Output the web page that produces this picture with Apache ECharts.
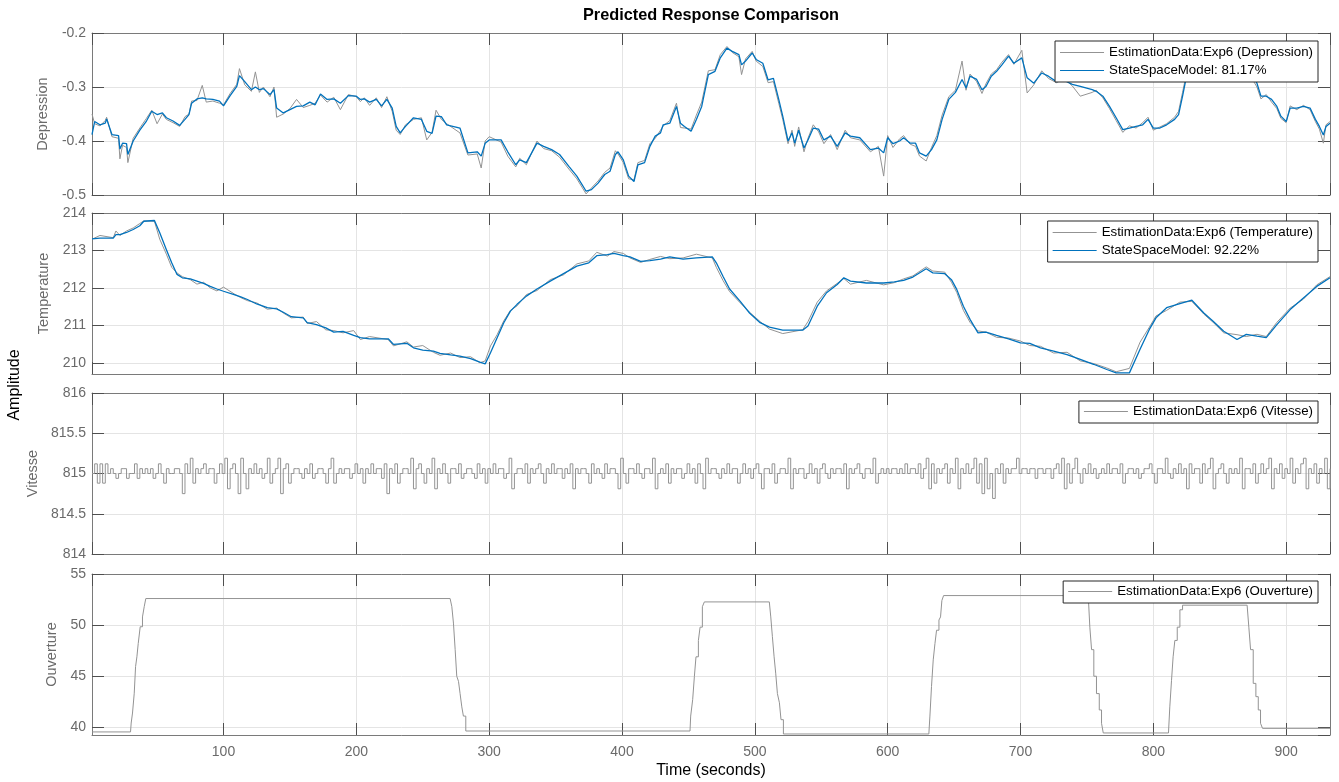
<!DOCTYPE html>
<html>
<head>
<meta charset="utf-8">
<script src="https://cdn.jsdelivr.net/npm/echarts@6/dist/echarts.min.js"></script>
<style>
  html, body { margin: 0; padding: 0; background: #ffffff; }
  #chart { width: 1339px; height: 782px; }
</style>
</head>
<body>
<div id="chart"></div>
<script>
// ---- Depression (output 1): measured vs one-step predicted ----
const depTime = [1,3,7,11,12,16,21,22,24,27,28,32,37,42,46,50,54,57,62,67,71,74,76,80,84,87,92,97,100,105,110,112,116,121,124,127,130,135,138,140,145,150,155,160,165,169,173,178,183,188,194,200,203,206,210,215,219,223,227,230,233,237,243,249,253,257,260,264,268,278,284,291,294,297,300,309,314,320,323,328,336,341,347,353,360,366,373,377,382,387,391,395,397,401,405,409,412,417,421,425,429,431,436,441,444,447,452,456,460,465,470,474,479,483,488,490,493,498,501,506,510,514,518,521,525,528,530,533,537,540,544,548,552,557,562,568,572,579,587,593,597,600,604,609,612,617,621,624,629,633,637,641,646,651,656,659,662,667,671,674,678,682,686,691,695,701,705,710,716,721,727,733,739,745,754,757,762,767,772,777,782,787,792,796,800,805,810,816,819,822,825,830,836,842,848,854,860,866,872,878,881,885,889,893,896,900,903,908,913,918,922,925,928,930,933];
const depModel = [-0.388,-0.364,-0.370,-0.367,-0.359,-0.388,-0.390,-0.415,-0.404,-0.405,-0.425,-0.400,-0.380,-0.363,-0.345,-0.351,-0.348,-0.357,-0.363,-0.371,-0.360,-0.351,-0.330,-0.322,-0.320,-0.322,-0.323,-0.326,-0.335,-0.316,-0.299,-0.279,-0.290,-0.305,-0.300,-0.305,-0.303,-0.314,-0.305,-0.339,-0.348,-0.342,-0.336,-0.335,-0.328,-0.333,-0.313,-0.323,-0.322,-0.330,-0.316,-0.317,-0.323,-0.322,-0.328,-0.323,-0.335,-0.323,-0.339,-0.373,-0.385,-0.373,-0.357,-0.360,-0.382,-0.386,-0.354,-0.355,-0.370,-0.376,-0.422,-0.420,-0.428,-0.404,-0.398,-0.398,-0.420,-0.444,-0.435,-0.440,-0.404,-0.410,-0.416,-0.425,-0.447,-0.465,-0.493,-0.490,-0.478,-0.462,-0.456,-0.425,-0.420,-0.435,-0.465,-0.475,-0.444,-0.440,-0.410,-0.391,-0.385,-0.370,-0.367,-0.336,-0.367,-0.373,-0.382,-0.360,-0.336,-0.277,-0.271,-0.246,-0.228,-0.234,-0.240,-0.259,-0.252,-0.237,-0.249,-0.256,-0.287,-0.284,-0.323,-0.354,-0.400,-0.385,-0.404,-0.380,-0.413,-0.398,-0.376,-0.378,-0.398,-0.391,-0.410,-0.385,-0.391,-0.394,-0.416,-0.413,-0.422,-0.394,-0.405,-0.400,-0.394,-0.404,-0.404,-0.422,-0.428,-0.416,-0.398,-0.360,-0.323,-0.310,-0.286,-0.302,-0.280,-0.286,-0.305,-0.299,-0.280,-0.271,-0.259,-0.243,-0.256,-0.246,-0.283,-0.293,-0.274,-0.280,-0.290,-0.288,-0.295,-0.299,-0.305,-0.308,-0.317,-0.336,-0.357,-0.379,-0.376,-0.373,-0.370,-0.360,-0.376,-0.376,-0.370,-0.360,-0.351,-0.317,-0.280,-0.262,-0.250,-0.245,-0.240,-0.245,-0.250,-0.258,-0.270,-0.293,-0.317,-0.317,-0.323,-0.336,-0.354,-0.364,-0.339,-0.339,-0.336,-0.339,-0.360,-0.373,-0.389,-0.373,-0.367];
const depMeasured = [-0.350,-0.368,-0.372,-0.362,-0.356,-0.392,-0.395,-0.433,-0.408,-0.412,-0.440,-0.395,-0.376,-0.358,-0.343,-0.368,-0.350,-0.360,-0.366,-0.373,-0.355,-0.350,-0.326,-0.325,-0.297,-0.328,-0.326,-0.330,-0.333,-0.312,-0.295,-0.266,-0.296,-0.308,-0.272,-0.310,-0.300,-0.318,-0.300,-0.356,-0.350,-0.340,-0.323,-0.338,-0.334,-0.330,-0.315,-0.328,-0.319,-0.342,-0.314,-0.318,-0.327,-0.320,-0.334,-0.320,-0.338,-0.318,-0.345,-0.380,-0.388,-0.370,-0.360,-0.357,-0.398,-0.384,-0.343,-0.360,-0.368,-0.385,-0.426,-0.424,-0.450,-0.400,-0.392,-0.402,-0.428,-0.448,-0.432,-0.444,-0.400,-0.414,-0.418,-0.430,-0.452,-0.470,-0.498,-0.487,-0.474,-0.458,-0.450,-0.418,-0.424,-0.440,-0.470,-0.472,-0.440,-0.436,-0.405,-0.395,-0.380,-0.372,-0.362,-0.330,-0.375,-0.376,-0.378,-0.352,-0.328,-0.270,-0.268,-0.240,-0.225,-0.236,-0.244,-0.277,-0.248,-0.234,-0.252,-0.262,-0.292,-0.290,-0.330,-0.360,-0.405,-0.380,-0.410,-0.374,-0.420,-0.395,-0.370,-0.383,-0.405,-0.388,-0.416,-0.380,-0.394,-0.398,-0.420,-0.410,-0.465,-0.390,-0.412,-0.396,-0.390,-0.406,-0.410,-0.428,-0.437,-0.412,-0.390,-0.352,-0.318,-0.306,-0.252,-0.306,-0.276,-0.290,-0.312,-0.294,-0.276,-0.268,-0.254,-0.240,-0.258,-0.232,-0.311,-0.296,-0.270,-0.284,-0.292,-0.285,-0.298,-0.317,-0.310,-0.306,-0.320,-0.340,-0.362,-0.384,-0.372,-0.376,-0.366,-0.356,-0.380,-0.374,-0.368,-0.356,-0.345,-0.310,-0.274,-0.258,-0.246,-0.242,-0.238,-0.248,-0.254,-0.262,-0.275,-0.300,-0.322,-0.314,-0.328,-0.340,-0.358,-0.366,-0.335,-0.342,-0.334,-0.342,-0.364,-0.378,-0.404,-0.370,-0.364];

// ---- Temperature (output 2) ----
const tempTime = [1,7,17,19,22,27,32,37,40,48,52,57,61,65,69,75,80,85,90,95,100,108,113,118,125,133,140,145,151,160,163,170,177,183,190,198,203,210,224,228,238,243,250,258,263,271,278,286,293,297,301,306,311,316,321,328,336,346,356,366,375,381,389,394,401,406,414,421,429,436,446,456,468,471,476,481,489,496,504,511,521,536,540,547,554,562,567,572,584,597,605,612,619,629,634,643,648,652,657,662,668,674,682,691,700,707,715,725,735,745,755,765,772,782,790,797,802,810,820,829,838,845,853,863,870,878,885,893,903,913,923,933];
const tempModel = [213.31,213.33,213.33,213.42,213.42,213.48,213.56,213.66,213.78,213.80,213.47,213.02,212.67,212.36,212.27,212.24,212.18,212.12,212.04,211.97,211.91,211.82,211.76,211.69,211.57,211.47,211.44,211.35,211.23,211.20,211.07,211.02,210.93,210.82,210.84,210.73,210.67,210.64,210.64,210.49,210.52,210.40,210.34,210.31,210.25,210.21,210.18,210.11,210.02,209.97,210.27,210.67,211.07,211.38,211.56,211.78,211.97,212.18,212.38,212.58,212.67,212.86,212.89,212.92,212.86,212.83,212.71,212.73,212.77,212.83,212.77,212.80,212.83,212.67,212.31,211.97,211.64,211.33,211.07,210.95,210.87,210.87,210.98,211.51,211.87,212.09,212.27,212.18,212.13,212.13,212.16,212.20,212.29,212.51,212.40,212.38,212.22,211.96,211.51,211.16,210.80,210.82,210.73,210.64,210.53,210.52,210.40,210.31,210.22,210.09,209.96,209.82,209.73,209.73,210.36,210.89,211.20,211.47,211.58,211.67,211.33,211.11,210.84,210.62,210.76,210.71,210.67,211.02,211.42,211.73,212.04,212.27];
const tempMeasured = [213.30,213.40,213.34,213.52,213.40,213.52,213.60,213.72,213.79,213.78,213.30,212.90,212.55,212.40,212.30,212.22,212.10,212.15,212.00,211.92,212.02,211.84,211.74,211.66,211.60,211.43,211.46,211.33,211.20,211.22,211.05,211.10,210.88,210.86,210.80,210.86,210.62,210.70,210.62,210.45,210.56,210.42,210.46,210.28,210.20,210.26,210.14,210.16,210.00,210.05,210.45,210.75,211.12,211.40,211.52,211.82,211.93,212.22,212.35,212.64,212.72,212.95,212.85,212.97,212.92,212.80,212.68,212.76,212.84,212.78,212.80,212.90,212.80,212.55,212.20,211.90,211.60,211.35,211.10,210.90,210.78,210.88,211.10,211.62,211.92,212.12,212.25,212.10,212.20,212.08,212.14,212.24,212.32,212.56,212.45,212.42,212.15,211.88,211.40,211.08,210.85,210.82,210.68,210.66,210.58,210.46,210.44,210.26,210.28,210.05,209.98,209.86,209.76,209.85,210.55,210.95,211.25,211.40,211.62,211.64,211.30,211.08,210.80,210.75,210.70,210.76,210.70,211.08,211.46,211.70,212.08,212.30];

// ---- Vitesse (input 1): held samples every 2 s starting at t = 1 s ----
const vitesseStart = 1;
const vitesseStep = 2;
const vitesse = [
  815,815.12,814.88,815.12,814.88,815.12,815,815.06,815,814.94,
  815,815.06,815.06,814.94,815,815,815.12,814.94,815.06,815,
  815.06,815,815.06,814.94,815,815.12,815,814.88,815.06,815,
  815,815.06,815.06,815,814.75,815.12,815,815.19,814.88,815.06,
  815,815.06,815.12,815,815.06,815.06,814.88,815,815.12,815,
  815.19,814.81,815.06,815.12,815,814.75,815.19,815,814.81,815.06,
  815,815.12,815,815.06,814.94,815,815.19,814.88,815,815.06,
  815.19,814.75,815.06,815.12,814.88,815,815.06,815.06,815,814.94,
  815.06,815,815.12,814.94,815,815.06,815.06,815,814.88,815.06,
  815.19,814.88,815,815.06,815,815.06,815.06,814.94,815,815.12,
  815,815.06,814.88,815.06,815,815.12,815,815.06,815.06,814.94,
  815.12,814.75,815.06,815,815.12,814.88,815,815.06,815.06,815,
  815.19,814.81,815.06,815.12,815,814.88,815.06,815,815.19,814.81,
  815.06,815,815.12,815,814.88,815.06,815.06,815,815.12,814.94,
  815,815.06,815.06,815,814.94,815.12,815,815.06,814.88,815.06,
  815,815.12,815,815.06,815.06,814.94,815,815.19,814.81,815,
  815.06,815.06,815,815.12,814.88,815.06,815,815.06,815.12,815,
  814.88,815.06,815,815.12,815,815.06,815.06,814.94,815.06,815,
  815.12,814.81,815.06,815,815.06,815.06,815,814.88,815.12,815,
  815.06,815,814.94,815.12,815,815.06,815.06,815,814.81,815.19,
  815,814.88,815.06,815.06,815,815.12,815,814.94,815.06,815.06,
  815,815.19,814.81,815,815.06,815,815.12,814.88,815.06,815,
  815.06,815.06,814.94,815,815.12,815,815.06,814.88,815.12,815,
  814.81,815.19,815,815.06,815.06,815,814.94,815.06,815,815.12,
  815,815.06,815.06,814.88,815,815.12,815,815.06,814.94,815.06,
  815.12,815,814.81,815.06,815.06,815,815.12,814.88,815,815.06,
  815.06,815,815.19,814.81,815.06,815,815.06,815.06,814.94,815,
  815.12,815,815.06,814.88,815.06,815.12,815,814.94,815.06,815,
  815.06,815.06,815,815.12,814.81,815.06,815,815.06,815.12,815,
  814.94,815.06,815.06,815,815.19,814.88,815,815.06,815,815.06,
  815,815.06,815.06,815,815.06,815,815.12,815,815.06,815.06,
  815,815.12,814.94,815.06,815.19,814.81,815.12,814.88,815.06,815,
  815.06,815.12,814.88,815.06,815,815.19,814.81,815.06,815,815.12,
  815,815.06,815.19,814.88,815.12,814.75,815.19,814.81,815,814.69,
  815.06,815,815.12,814.88,815.06,815,815.06,815.06,815.19,815,
  815.06,815.06,815,815.06,815.06,814.94,815.06,815.06,815,815.06,
  815.06,814.94,815.06,815.12,815,815.19,814.81,815.12,814.88,815.06,
  815.19,815,814.88,815.06,815,815.12,815,815.06,814.94,815,
  815.06,815,815.12,815,815.06,815.06,815,815.12,814.88,815,
  815.06,815.06,815,815.06,814.94,815,815.06,815.06,815.12,815,
  814.88,815.06,815.06,815,815.19,815,814.94,815.06,815,815.12,
  815,815.06,814.81,815.12,815,815.06,815.06,814.88,815.12,815,
  815.06,815.19,814.81,815,815.06,815.12,815,814.88,815.06,815,
  815.06,815,815.19,814.81,815.06,815.06,815,815.12,814.88,815,
  815.12,815,815.06,815.19,814.81,815.06,815,815.12,814.94,815.06,
  815,815.19,814.88,815.06,815,815.12,815.19,814.81,815.06,815,
  815.12,814.88,815.06,815,815.19,814.81,815.06
];

// ---- Ouverture (input 2): staircase change points ----
const ouvTime = [1,30,30.5,31.5,32.8,33.8,34.8,35.8,37.3,39,40.3,41.5,270.6,271.9,273.1,274.4,275.6,276.9,278.1,279.4,280.6,282.4,451.2,451.7,453.2,454.5,455.7,457.5,458.8,460.5,462,510.9,512,513.2,514.5,515.7,517,518.5,519.7,521.5,631,631.8,633,634.3,635.6,636.8,638.6,639.8,640.8,642.1,751,752.2,753.5,755.2,757.2,759.3,761,762.3,811.4,812.4,813.7,814.9,816.2,818,820,822,870.6,871.9,873.2,875.2,877.2,879,880.7,882.2,933];
const ouvValue = [39.55,39.55,40.42,41.4,43.34,45.94,46.9,48.2,49.84,50.8,51.8,52.6,52.6,51.8,50.2,47.6,45.0,44.5,43.3,42.0,41.1,39.64,39.64,41.1,42.7,45.0,46.9,48.5,49.8,51.8,52.27,52.27,50.8,48.9,46.9,45.3,43.3,42.4,40.75,39.35,39.35,41.1,44.0,46.6,48.2,49.5,50.5,50.8,52.4,52.89,52.89,49.8,47.6,45.0,43.3,41.7,40.4,39.45,39.45,42.0,44.6,46.9,48.5,49.8,51.5,51.95,51.95,49.8,47.6,44.3,43.0,41.7,40.4,39.9,39.86];

// ---- Labels ----
const panelNames = ['Depression', 'Temperature', 'Vitesse', 'Ouverture'];
const measuredNames = [
  'EstimationData:Exp6 (Depression)',
  'EstimationData:Exp6 (Temperature)',
  'EstimationData:Exp6 (Vitesse)',
  'EstimationData:Exp6 (Ouverture)'
];
const modelNames = ['StateSpaceModel: 81.17%', 'StateSpaceModel: 92.22%'];
const titleText = 'Predicted Response Comparison';
const xTitle = 'Time (seconds)';
const yTitle = 'Amplitude';

// ---- Layout & styling ----
const FONT = '"Liberation Sans", Arial, Helvetica, sans-serif';
const FRAME = '#7a7a7a';
const TICK = '#4f4f4f';
const LABEL = '#6a6a6a';
const GRID = '#e4e4e4';
const GREY_LINE = '#939393';
const BLUE_LINE = '#0072BD';
const PLOT_LEFT = 92, PLOT_RIGHT = 9;
const T_MIN = 1, T_MAX = 933;

const panels = [
  { top: 33,  height: 162, min: -0.5,  max: -0.2, step: 0.1, showMin: true  },
  { top: 213, height: 161, min: 209.7, max: 214,  step: 1,   showMin: false },
  { top: 393, height: 161, min: 814,   max: 816,  step: 0.5, showMin: true  },
  { top: 574, height: 161, min: 39.25, max: 55,   step: 5,   showMin: false }
];

const legendBoxes = [
  { right: 21, top: 41 },
  { right: 21, top: 221 },
  { right: 21, top: 401 },
  { right: 21, top: 581 }
];

function pairs(t, v) { return t.map((x, i) => [x, v[i]]); }

const grids = panels.map(p => ({
  left: PLOT_LEFT, right: PLOT_RIGHT, top: p.top, height: p.height,
  show: false, containLabel: false
}));

const xAxes = [];
panels.forEach((p, i) => {
  xAxes.push({
    gridIndex: i, type: 'value', position: 'bottom',
    min: T_MIN, max: T_MAX, minInterval: 100, maxInterval: 100,
    axisLine: { show: true, onZero: false, lineStyle: { color: FRAME, width: 1 } },
    axisTick: { show: true, inside: true, length: 12, lineStyle: { color: TICK, width: 1 } },
    axisLabel: {
      show: i === 3, color: LABEL, fontSize: 14, fontFamily: FONT, margin: 10,
      showMinLabel: false, showMaxLabel: false
    },
    splitLine: { show: true, lineStyle: { color: GRID, width: 1 } }
  });
});
panels.forEach((p, i) => {
  xAxes.push({
    gridIndex: i, type: 'value', position: 'top',
    min: T_MIN, max: T_MAX, minInterval: 100, maxInterval: 100,
    axisLine: { show: true, onZero: false, lineStyle: { color: FRAME, width: 1 } },
    axisTick: { show: true, inside: true, length: 12, lineStyle: { color: TICK, width: 1 } },
    axisLabel: { show: false },
    splitLine: { show: false }
  });
});

const yAxes = [];
panels.forEach((p, i) => {
  yAxes.push({
    gridIndex: i, type: 'value', position: 'left',
    min: p.min, max: p.max, minInterval: p.step, maxInterval: p.step,
    name: panelNames[i], nameLocation: 'middle', nameGap: 33, nameRotate: 90,
    nameTextStyle: { color: LABEL, fontSize: 14.5, fontFamily: FONT },
    axisLine: { show: true, onZero: false, lineStyle: { color: FRAME, width: 1 } },
    axisTick: { show: true, inside: true, length: 12, lineStyle: { color: TICK, width: 1 } },
    axisLabel: {
      color: LABEL, fontSize: 14, fontFamily: FONT, margin: 6,
      showMinLabel: p.showMin, showMaxLabel: true
    },
    splitLine: { show: true, lineStyle: { color: GRID, width: 1 } }
  });
});
panels.forEach((p, i) => {
  yAxes.push({
    gridIndex: i, type: 'value', position: 'right',
    min: p.min, max: p.max, minInterval: p.step, maxInterval: p.step,
    axisLine: { show: true, onZero: false, lineStyle: { color: FRAME, width: 1 } },
    axisTick: { show: true, inside: true, length: 12, lineStyle: { color: TICK, width: 1 } },
    axisLabel: { show: false },
    splitLine: { show: false }
  });
});

function lineSeries(name, idx, data, color, width, step) {
  return {
    name, type: 'line', xAxisIndex: idx, yAxisIndex: idx,
    data, step: step || false, symbol: 'none', showSymbol: false,
    lineStyle: { color, width }, itemStyle: { color },
    silent: true, animation: false
  };
}

const vitesseData = vitesse.map((v, i) => [vitesseStart + i * vitesseStep, v]);

const series = [
  lineSeries(measuredNames[0], 0, pairs(depTime, depMeasured), GREY_LINE, 1),
  lineSeries(modelNames[0], 0, pairs(depTime, depModel), BLUE_LINE, 1.3),
  lineSeries(measuredNames[1], 1, pairs(tempTime, tempMeasured), GREY_LINE, 1),
  lineSeries(modelNames[1], 1, pairs(tempTime, tempModel), BLUE_LINE, 1.3),
  lineSeries(measuredNames[2], 2, vitesseData, GREY_LINE, 1, 'end'),
  lineSeries(measuredNames[3], 3, pairs(ouvTime, ouvValue), GREY_LINE, 1, 'end')
];

const legendItems = [
  [measuredNames[0], modelNames[0]],
  [measuredNames[1], modelNames[1]],
  [measuredNames[2]],
  [measuredNames[3]]
];

// Legend samples are plain horizontal strokes in each series' colour
const legends = legendItems.map((items, i) => ({
  data: items.map(n => ({ name: n, icon: 'rect' })),
  orient: 'vertical', align: 'left',
  right: legendBoxes[i].right, top: legendBoxes[i].top,
  backgroundColor: '#ffffff', borderColor: '#262626', borderWidth: 1,
  padding: items.length > 1 ? [4, 5, 4, 5] : [3, 5, 4, 5],
  itemGap: 3, itemWidth: 44, itemHeight: 1.2,
  selectedMode: false,
  textStyle: { color: '#000000', fontSize: 13.3, fontFamily: FONT, lineHeight: 15 }
}));

const plotCenterX = PLOT_LEFT + (1339 - PLOT_LEFT - PLOT_RIGHT) / 2;

const option = {
  backgroundColor: '#ffffff',
  animation: false,
  grid: grids,
  xAxis: xAxes,
  yAxis: yAxes,
  legend: legends,
  series,
  graphic: [
    {
      type: 'text', x: plotCenterX, y: 16,
      style: {
        text: titleText, fill: '#000000', font: 'bold 16.3px ' + FONT,
        textAlign: 'center', textVerticalAlign: 'middle'
      }
    },
    {
      type: 'text', x: plotCenterX, y: 771,
      style: {
        text: xTitle, fill: '#000000', font: '16px ' + FONT,
        textAlign: 'center', textVerticalAlign: 'middle'
      }
    },
    {
      type: 'text', x: 15, y: 385, rotation: Math.PI / 2,
      style: {
        text: yTitle, fill: '#000000', font: '16px ' + FONT,
        textAlign: 'center', textVerticalAlign: 'middle'
      }
    }
  ]
};

const chart = echarts.init(document.getElementById('chart'), null, { renderer: 'canvas' });
chart.setOption(option);
</script>
</body>
</html>
